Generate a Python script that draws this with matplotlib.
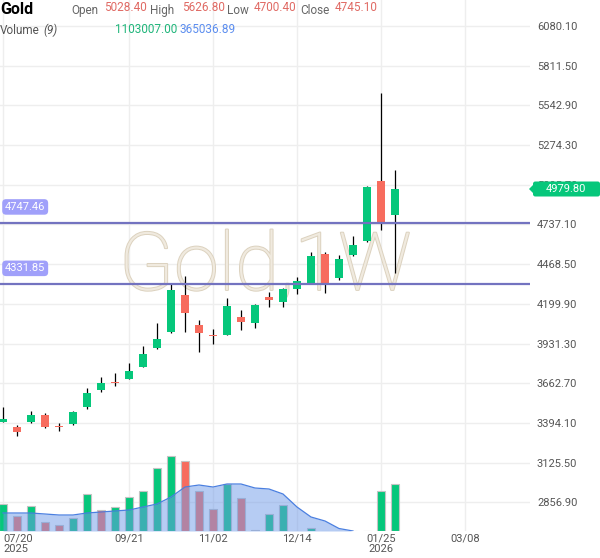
import matplotlib as mpl
mpl.use('Agg')
import matplotlib.pyplot as plt
import matplotlib.dates as mdates
import matplotlib.patheffects as pe
from matplotlib.patches import FancyBboxPatch, Polygon
import numpy as np
import pandas as pd

plt.rcParams['font.family'] = ['Roboto', 'DejaVu Sans']

# weekly candles, Gold 1W
weeks = pd.date_range('2025-07-20', periods=29, freq='7D')
opens = [3400.3, 3366.3, 3402.3, 3449.8, 3375.0, 3388.7, 3504.0, 3619.4, 3671.7, 3694.0,
         3775.5, 3897.7, 4006.2, 4262.0, 4058.5, 3990.6, 3990.6, 4112.8, 4072.1, 4248.5,
         4214.6, 4298.0, 4338.8, 4540.3, 4377.4, 4528.8, 4623.8, 5028.4, 4798.2]
highs = [3502.0, 3380.0, 3474.9, 3461.3, 3395.5, 3471.5, 3631.0, 3707.7, 3730.7, 3800.6,
         3914.0, 4072.0, 4334.7, 4389.0, 4092.4, 4029.3, 4241.7, 4160.3, 4201.0, 4282.4,
         4309.6, 4384.0, 4553.9, 4549.1, 4533.5, 4655.7, 4995.0, 5626.8, 5103.5]
lows = [3397.0, 3307.0, 3391.5, 3361.6, 3341.0, 3382.0, 3490.5, 3606.0, 3646.6, 3692.0,
        3770.0, 3892.0, 4000.8, 4006.0, 3877.3, 3927.5, 3987.0, 4024.6, 4038.0, 4180.6,
        4180.6, 4266.8, 4333.0, 4273.6, 4359.1, 4526.7, 4618.0, 4700.4, 4409.3]
closes = [3422.7, 3334.4, 3449.8, 3368.4, 3369.6, 3468.0, 3597.0, 3665.0, 3665.0, 3746.3,
          3861.7, 3963.5, 4296.0, 4135.2, 3999.5, 3979.1, 4187.4, 4078.9, 4194.2, 4228.2,
          4302.8, 4357.0, 4526.7, 4328.0, 4506.4, 4601.4, 4988.2, 4745.1, 4979.8]

volumes = [633600, 352000, 586700, 211200, 140800, 305100, 868300, 492800, 563200, 797900,
           938700, 1478500, 1760100, 1642800, 938700, 516300, 1103000, 774400, 23500, 399000,
           610200, 0, 70400, 0, 0, 0, 0, 938700, 1103007]
vol_up = [1, 0, 1, 0, 0, 1, 1, 0, 1, 1, 1, 1, 1, 0, 0, 0, 1, 0, 1, 1,
          1, 1, 1, 1, 1, 1, 1, 1, 1]
vol_ma = [422400, 422400, 422400, 399000, 375500, 375500, 422400, 445900, 469400, 492800,
          563200, 633600, 797900, 1032600, 1079500, 1032600, 1103000, 1103000, 1009100, 985600,
          868300, 563200, 328600, 234700, 58700, 0]

levels = [4747.46, 4331.85]
yticks = [2856.90, 3125.50, 3394.10, 3662.70, 3931.30, 4199.90, 4468.50, 4737.10,
          5005.70, 5274.30, 5542.90, 5811.50, 6080.10]
xtick_dates = ['2025-07-20', '2025-09-21', '2025-11-02', '2025-12-14', '2026-01-25', '2026-03-08']
xtick_labels = ['07/20\n2025', '09/21', '11/02', '12/14', '01/25\n2026', '03/08']

up_col = '#06c77b'
dn_col = '#f76c5e'

W, H = 600, 558
fig = plt.figure(figsize=(6.0, 5.58), dpi=100)
fig.patch.set_facecolor('white')

def ftext(x, y, s, **kw):
    return fig.text(x / W, 1 - y / H, s, **kw)

ax = fig.add_axes([0, 27 / H, 530 / W, 531 / H])
ax.set_facecolor('white')
for s in ax.spines.values():
    s.set_visible(False)

x = mdates.date2num(weeks)
x0 = mdates.date2num(pd.Timestamp('2025-07-20'))
ax.set_xlim(x0 - 1.5, x0 + 263.5)
ax.set_ylim(2662.7, 6256.0)

# volume pane (twin axis on the same area)
ax2 = ax.twinx()
ax2.set_ylim(0, 531 * 23468)
ax2.set_yticks([])
for s in ax2.spines.values():
    s.set_visible(False)

# grid + ticks
ax.set_yticks(yticks)
ax.set_yticklabels(['%.2f' % v for v in yticks])
ax.set_xticks(mdates.date2num(pd.to_datetime(xtick_dates)))
ax.set_xticklabels(xtick_labels, linespacing=1.0)
ax.yaxis.tick_right()
ax.yaxis.set_label_position('right')
ax.tick_params(axis='y', length=0, pad=5, labelsize=8, labelcolor='#555555',
               labelleft=False, labelright=True)
ax.tick_params(axis='x', length=0, pad=2, labelsize=8, labelcolor='#555555')
ax.get_xticklabels()[0].set_ha('left')
ax.grid(True, color='#eeeeee', lw=1.0, zorder=0)
ax.set_axisbelow(True)

# watermark
ax.text(0.5, 0.454, 'Gold,1W', transform=ax.transAxes, ha='center', va='baseline',
        fontsize=58, fontweight='light', color='#f0eadf', zorder=1,
        path_effects=[pe.Stroke(linewidth=1.4, foreground='#dcd2bf'), pe.Normal()])

# candles
ax.vlines(x, lows, highs, color='black', lw=0.9, zorder=3)
bot = np.minimum(opens, closes)
ht = np.maximum(np.abs(np.array(closes) - np.array(opens)), 6.5)
cols = [up_col if c >= o else dn_col for o, c in zip(opens, closes)]
ax.bar(x, ht, bottom=bot, width=3.6, color=cols, lw=0, zorder=4)

# horizontal levels
for lv in levels:
    ax.axhline(lv, color='#7373c0', lw=1.6, zorder=5)
    ax.text(5 / 530, lv + 16 * 6.767, '%.2f' % lv, transform=ax.get_yaxis_transform(),
            ha='left', va='center', fontsize=8, color='white', zorder=6,
            bbox=dict(boxstyle='round,pad=0.25,rounding_size=0.35', fc='#a0a0fa', ec='none'))

# volume bars + MA(9) area
vcols = [up_col if u else dn_col for u in vol_up]
ax2.bar(x, volumes, width=3.6, color=vcols, edgecolor='#c4c4c4', lw=0.8, zorder=2)
xm = x[:len(vol_ma)]
ax2.fill_between(xm, vol_ma, 0, color='#6f9ae8', alpha=0.5, lw=0, zorder=3)
ax2.plot(xm, vol_ma, color='#4a7fe0', lw=0.9, zorder=3)
ax2.set_xlim(ax.get_xlim())

# last price tag
tag_y = 189
fig.add_artist(FancyBboxPatch((533 / W, 1 - 196.5 / H), 67 / W, 15 / H,
                              boxstyle='round,pad=0,rounding_size=0.004',
                              transform=fig.transFigure, fc=up_col, ec='none', zorder=10))
fig.add_artist(Polygon([(529 / W, 1 - tag_y / H), (534 / W, 1 - (tag_y - 5) / H),
                        (534 / W, 1 - (tag_y + 5) / H)], closed=True,
                       transform=fig.transFigure, fc=up_col, ec='none', zorder=10))
ftext(566, tag_y, '4979.80', ha='center', va='center', fontsize=8, color='white', zorder=11)

# header
ftext(0, 14, 'Gold', fontsize=11.5, fontweight='bold', color='black', va='baseline')
hdr = [(71, 'Open', 104, '5028.40'), (150, 'High', 182, '5626.80'),
       (227, 'Low', 254, '4700.40'), (300, 'Close', 335, '4745.10')]
for lx, lab, vx, val in hdr:
    ftext(lx, 14, lab, fontsize=8.5, color='#666666', va='baseline')
    ftext(vx, 11, val, fontsize=8.5, color='#e06a64', va='baseline')
ftext(0, 34, 'Volume', fontsize=8.5, color='#555555', va='baseline')
ftext(43, 34, '(9)', fontsize=8.5, color='#555555', style='italic', va='baseline')
ftext(115, 33, '1103007.00', fontsize=8.5, color='#1fb57a', va='baseline')
ftext(180, 33, '365036.89', fontsize=8.5, color='#5b8def', va='baseline')

fig.savefig('out.png', dpi=100, facecolor='white')
